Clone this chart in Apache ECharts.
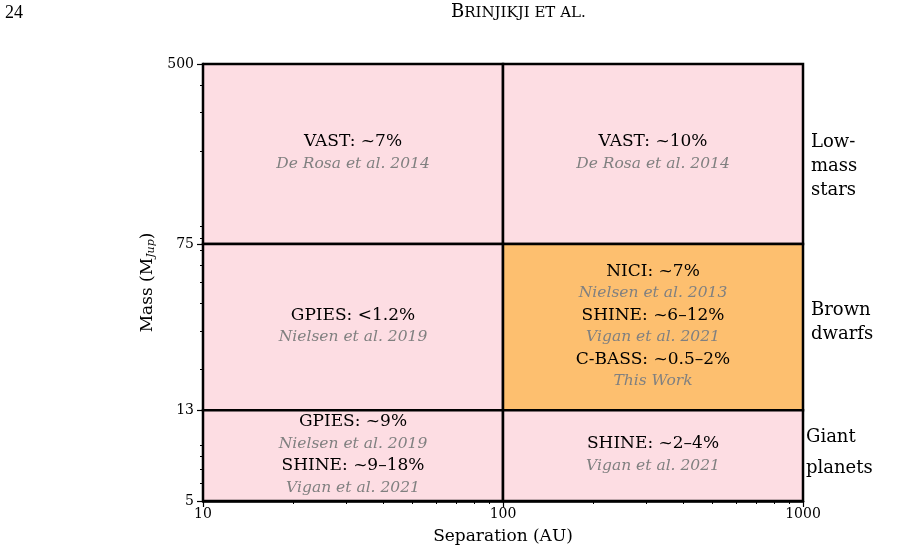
<!doctype html>
<html>
<head>
<meta charset="utf-8">
<script src="https://cdn.jsdelivr.net/npm/echarts@6/dist/echarts.min.js"></script>
<style>
    html, body {margin: 0; padding: 0; background: #fff;}
    #chart {width: 897px; height: 551px;}
</style>
</head>
<body>
<div id="chart"></div>
<script>
    // axis ticks (log axes)
    var sepMajor = [10, 100, 1000];
    var sepMinor = [20, 30, 40, 50, 60, 70, 80, 90, 200, 300, 400, 500, 600, 700, 800, 900];
    var massMajor = [5, 13, 75, 500];
    var massMinor = [6, 7, 8, 9, 20, 30, 40, 50, 60, 70, 80, 90, 200, 300, 400];

    // survey cells: separation range x mass range
    var cellX0 = [10, 100, 10, 100, 10, 100];
    var cellX1 = [100, 1000, 100, 1000, 100, 1000];
    var cellY0 = [75, 75, 13, 13, 5, 5];
    var cellY1 = [500, 500, 75, 75, 13, 13];
    var cellThisWork = [0, 0, 0, 1, 0, 0];
    var cellResults = [
        ['VAST: ~7%'],
        ['VAST: ~10%'],
        ['GPIES: <1.2%'],
        ['NICI: ~7%', 'SHINE: ~6–12%', 'C-BASS: ~0.5–2%'],
        ['GPIES: ~9%', 'SHINE: ~9–18%'],
        ['SHINE: ~2–4%']
    ];
    var cellRefs = [
        ['De Rosa et al. 2014'],
        ['De Rosa et al. 2014'],
        ['Nielsen et al. 2019'],
        ['Nielsen et al. 2013', 'Vigan et al. 2021', 'This Work'],
        ['Nielsen et al. 2019', 'Vigan et al. 2021'],
        ['Vigan et al. 2021']
    ];

    // companion classes, labelled at the right edge
    var classNames = ['Low-\nmass\nstars', 'Brown\ndwarfs', 'Giant\nplanets'];
    var classMass = [170, 33, 8.3];

    var SERIF = '"DejaVu Serif", serif';

    var cellData = cellX0.map(function (x0, i) {
        return [x0, cellX1[i], cellY0[i], cellY1[i], cellThisWork[i]];
    });
    var classData = classMass.map(function (m) {
        return [sepMajor[sepMajor.length - 1], m];
    });

    var myChart = echarts.init(document.getElementById('chart'));

    var option = {
        animation: false,
        grid: {left: 203, right: 94, top: 64, bottom: 50},
        graphic: [
            {type: 'text', left: 5, top: 4, style: {text: '24', fontSize: 18, fontFamily: '"Liberation Serif", serif', fill: '#000'}},
            {type: 'text', left: 451, top: 3, style: {
                text: '{b|B}{s|RINJIKJI ET AL.}',
                rich: {
                    b: {fontSize: 18, fontFamily: SERIF, fill: '#000'},
                    s: {fontSize: 15, fontFamily: SERIF, fill: '#000', padding: [3, 0, 0, 0]}
                }
            }}
        ],
        xAxis: [{
            type: 'log', logBase: 10, min: 10, max: 1000,
            name: 'Separation (AU)', nameLocation: 'middle', nameGap: 27,
            nameTextStyle: {fontFamily: SERIF, fontSize: 17, color: '#000'},
            axisLine: {lineStyle: {color: '#000', width: 2.5}},
            axisTick: {customValues: sepMajor, length: 6, lineStyle: {color: '#000', width: 1.2}},
            axisLabel: {customValues: sepMajor, fontFamily: SERIF, fontSize: 14, color: '#000', margin: 6,
                formatter: function (v) { return String(v); }},
            splitLine: {show: false}
        }, {
            type: 'log', logBase: 10, min: 10, max: 1000, position: 'bottom',
            axisLine: {show: false},
            axisTick: {customValues: sepMinor, length: 3, lineStyle: {color: '#000', width: 1}},
            axisLabel: {show: false},
            splitLine: {show: false}
        }],
        yAxis: [{
            type: 'log', logBase: 10, min: 5, max: 500,
            name: '{n|Mass (M}{s|Jup}{n|)}', nameLocation: 'middle', nameGap: 40, nameRotate: 90,
            nameTextStyle: {
                rich: {
                    n: {fontFamily: SERIF, fontSize: 17, color: '#000'},
                    s: {fontFamily: SERIF, fontSize: 11, fontStyle: 'italic', color: '#000', padding: [6, 0, 0, 0]}
                }
            },
            axisLine: {lineStyle: {color: '#000', width: 2.5}},
            axisTick: {customValues: massMajor, length: 6, lineStyle: {color: '#000', width: 1.2}},
            axisLabel: {customValues: massMajor, fontFamily: SERIF, fontSize: 14, color: '#000', margin: 9},
            splitLine: {show: false}
        }, {
            type: 'log', logBase: 10, min: 5, max: 500, position: 'left',
            axisLine: {show: false},
            axisTick: {customValues: massMinor, length: 3, lineStyle: {color: '#000', width: 1}},
            axisLabel: {show: false},
            splitLine: {show: false}
        }],
        series: [{
            type: 'custom',
            xAxisIndex: 0, yAxisIndex: 0,
            data: cellData,
            renderItem: function (params, api) {
                var i = params.dataIndex;
                var p0 = api.coord([api.value(0), api.value(3)]);
                var p1 = api.coord([api.value(1), api.value(2)]);
                var parts = [];
                cellResults[i].forEach(function (r, k) {
                    parts.push('{r|' + r + '}');
                    parts.push('{c|' + cellRefs[i][k] + '}');
                });
                return {
                    type: 'group',
                    children: [{
                        type: 'rect',
                        shape: {x: p0[0], y: p0[1], width: p1[0] - p0[0], height: p1[1] - p0[1]},
                        style: {fill: api.value(4) ? '#fdbf6f' : '#fddde3', stroke: '#000', lineWidth: 2.5}
                    }, {
                        type: 'text',
                        x: (p0[0] + p1[0]) / 2,
                        y: (p0[1] + p1[1]) / 2 - 1,
                        style: {
                            text: parts.join('\n'),
                            align: 'center',
                            verticalAlign: 'middle',
                            rich: {
                                r: {font: '17px ' + SERIF, fill: '#000', lineHeight: 22, align: 'center'},
                                c: {font: 'italic 15.5px ' + SERIF, fill: '#808080', lineHeight: 22, align: 'center'}
                            }
                        }
                    }]
                };
            }
        }, {
            type: 'custom',
            xAxisIndex: 0, yAxisIndex: 0,
            data: classData,
            clip: false,
            renderItem: function (params, api) {
                var p = api.coord([api.value(0), api.value(1)]);
                var giant = params.dataIndex === 2;
                return {
                    type: 'text',
                    x: p[0] + (giant ? 3 : 8),
                    y: p[1],
                    style: {
                        text: classNames[params.dataIndex],
                        font: '18px ' + SERIF,
                        fill: '#000',
                        lineHeight: giant ? 31 : 24,
                        align: 'left',
                        verticalAlign: 'middle'
                    }
                };
            }
        }]
    };

    myChart.setOption(option);
</script>
</body>
</html>
